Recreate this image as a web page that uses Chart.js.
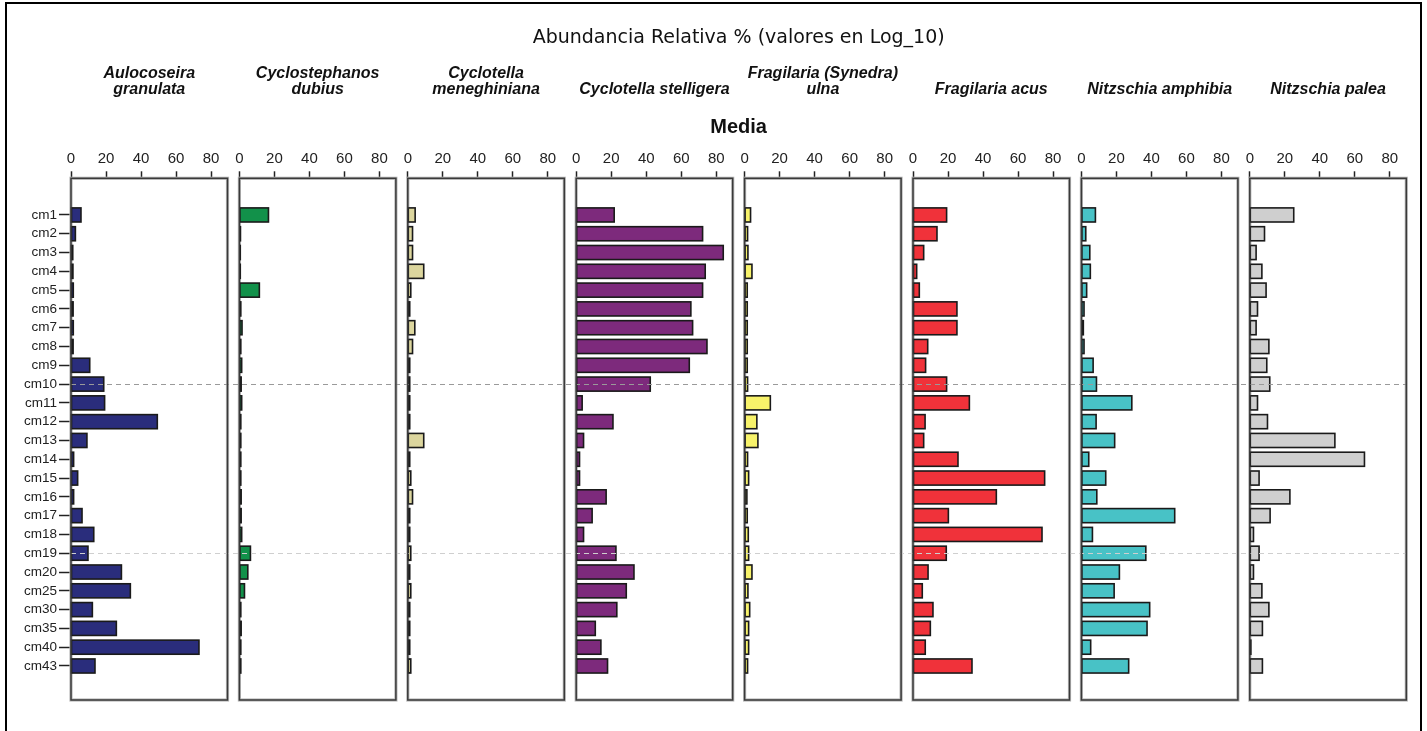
<!DOCTYPE html>
<html lang="es">
<head>
<meta charset="utf-8">
<title>Abundancia Relativa %</title>
<script src="https://cdn.jsdelivr.net/npm/chart.js@4.4.1/dist/chart.umd.min.js"></script>
<style>
  html, body { margin: 0; padding: 0; background: #ffffff; overflow: hidden; }
  #wrap { position: relative; width: 1427px; height: 731px; }
</style>
</head>
<body>
<div id="wrap"><canvas id="chart"></canvas></div>
<script>
// Sample depths (rows, top to bottom)
const categories = ['cm1', 'cm2', 'cm3', 'cm4', 'cm5', 'cm6', 'cm7', 'cm8', 'cm9', 'cm10',
  'cm11', 'cm12', 'cm13', 'cm14', 'cm15', 'cm16', 'cm17', 'cm18', 'cm19', 'cm20',
  'cm25', 'cm30', 'cm35', 'cm40', 'cm43'];

// Tick labels on every panel axis
const xTickValues = [0, 20, 40, 60, 80];

// Panel headings (one entry per line)
const speciesNames = [
  ['Aulocoseira', 'granulata'],
  ['Cyclostephanos', 'dubius'],
  ['Cyclotella', 'meneghiniana'],
  ['Cyclotella stelligera'],
  ['Fragilaria (Synedra)', 'ulna'],
  ['Fragilaria acus'],
  ['Nitzschia amphibia'],
  ['Nitzschia palea']
];

// Mean relative abundance per species, one value per depth
const aulacoseiraGranulata = [5.7, 2.5, 1.0, 1.1, 1.3, 1.2, 1.3, 1.2, 10.7, 18.7, 19.2, 49.3, 9.1,
  1.5, 3.8, 1.5, 6.3, 13.0, 9.7, 28.8, 33.9, 12.2, 25.9, 73.1, 13.7];
const cyclostephanosDubius = [16.6, 0.6, 0.5, 0.5, 11.4, 0.8, 1.5, 0.8, 1.3, 1.0, 1.3, 0.8, 0.8,
  0.8, 0.8, 1.0, 1.0, 1.3, 6.3, 4.8, 2.9, 0.8, 1.0, 0.8, 0.8];
const cyclotellaMeneghiniana = [4.2, 2.7, 2.7, 9.1, 1.7, 1.1, 4.0, 2.7, 1.1, 1.1, 1.1, 1.1, 9.1,
  1.1, 1.7, 2.7, 1.1, 1.1, 1.7, 1.1, 1.7, 1.1, 1.1, 1.1, 1.7];
const cyclotellaStelligera = [21.7, 72.2, 84.0, 73.7, 72.2, 65.5, 66.5, 74.7, 64.6, 42.3, 3.4, 21.0, 4.2,
  1.9, 1.9, 17.1, 9.1, 4.2, 22.7, 33.0, 28.6, 23.2, 10.9, 14.1, 17.9];
const fragilariaUlna = [3.4, 1.7, 1.9, 4.2, 1.5, 1.5, 1.5, 1.5, 1.5, 1.7, 14.7, 7.0, 7.6,
  1.7, 2.3, 1.3, 1.5, 2.1, 2.3, 4.2, 1.9, 2.9, 2.3, 2.3, 1.7];
const fragilariaAcus = [19.2, 13.7, 6.1, 2.1, 3.6, 25.1, 25.1, 8.4, 7.2, 19.2, 32.2, 6.9, 6.1,
  25.7, 75.2, 47.6, 20.2, 73.7, 19.0, 8.6, 5.3, 11.4, 9.9, 7.0, 33.7];
const nitzschiaAmphibia = [8.0, 2.5, 4.8, 5.1, 3.0, 1.5, 1.1, 1.5, 6.7, 8.6, 28.8, 8.4, 19.0,
  4.2, 13.9, 8.8, 53.3, 6.3, 36.8, 21.7, 18.7, 39.0, 37.5, 5.3, 27.0];
const nitzschiaPalea = [25.1, 8.4, 3.6, 6.9, 9.3, 4.4, 3.6, 10.9, 9.7, 11.4, 4.4, 10.1, 48.6,
  65.5, 5.3, 22.9, 11.6, 2.1, 5.3, 2.1, 6.9, 10.9, 7.2, 0.6, 7.2];

// Depths marked with a dashed guide across all panels
const markedRows = ['cm10', 'cm19'];

const series = [aulacoseiraGranulata, cyclostephanosDubius, cyclotellaMeneghiniana, cyclotellaStelligera,
  fragilariaUlna, fragilariaAcus, nitzschiaAmphibia, nitzschiaPalea];
const barColours = ['#2a2d7c', '#12914a', '#dcd69e', '#7d2a7c', '#f7f26a', '#f0323a', '#48c2c6', '#cfcfcf'];
const guideColours = ['#9a9a9a', '#cfcfcf'];

// Each panel axis spans one slot; the framed plot ends a little before the slot end
const AXIS_MAX = 96.2;
const FRAME_MAX = 89.4;

const SANS = "'Liberation Sans', Arial, Helvetica, sans-serif";
const NARROW = "'Liberation Sans Narrow', 'Liberation Sans', Arial, sans-serif";
const WIDE = "'DejaVu Sans', Verdana, sans-serif";

const datasets = series.map((values, k) => ({
  label: speciesNames[k].join(' '),
  data: values.map((v, i) => ({ x: v, y: i })),
  xAxisID: 'x' + k,
  yAxisID: 'y',
  backgroundColor: barColours[k],
  borderWidth: 0,
  inflateAmount: 0,
  grouped: false,
  categoryPercentage: 1,
  barPercentage: 0.75
}));

const scales = {
  y: {
    type: 'linear',
    position: 'left',
    reverse: true,
    offset: false,
    min: -1.95,
    max: 25.81,
    bounds: 'data',
    afterBuildTicks: s => { s.ticks = categories.map((_, i) => ({ value: i })); },
    afterFit: s => { s.width = 50; },
    ticks: {
      callback: v => categories[v],
      font: { family: SANS, size: 13.5 },
      color: '#222',
      padding: 2,
      autoSkip: false
    },
    grid: { display: true, offset: false, drawOnChartArea: false, drawTicks: true, tickLength: 12, tickColor: '#222', tickWidth: 1.5 },
    border: { display: false }
  }
};

// Panel axes sit side by side along the top; higher weight is placed further left
series.forEach((_, k) => {
  scales['x' + k] = {
    type: 'linear',
    position: 'top',
    stack: 'panels',
    stackWeight: 1,
    weight: series.length - k,
    offset: false,
    min: 0,
    max: AXIS_MAX,
    bounds: 'data',
    afterBuildTicks: s => { s.ticks = xTickValues.map(v => ({ value: v })); },
    afterFit: s => { s.height = 28; },
    ticks: {
      font: { family: NARROW, size: 15 },
      color: '#222',
      padding: 3,
      maxRotation: 0,
      minRotation: 0,
      autoSkip: false
    },
    grid: { display: true, offset: false, drawOnChartArea: false, drawTicks: true, tickLength: 7, tickColor: '#222', tickWidth: 1.5 },
    border: { display: false }
  };
});

function panelFrames(chart) {
  const { chartArea: area, scales: sc } = chart;
  return series.map((_, k) => {
    const s = sc['x' + k];
    const x0 = s.getPixelForValue(0);
    const x1 = s.getPixelForValue(FRAME_MAX);
    return { x: x0, y: area.top, w: x1 - x0, h: area.bottom - area.top };
  });
}

// Frame halo underneath; bar outlines (stroked on the edge so even tiny bars read
// as dark marks), guide lines and frame lines on top; headings and outer border last
const panelDecor = {
  id: 'panelDecor',
  beforeDatasetsDraw(chart) {
    const { ctx } = chart;
    ctx.save();
    ctx.strokeStyle = '#b8b8b8';
    ctx.lineWidth = 3.2;
    panelFrames(chart).forEach(f => ctx.strokeRect(f.x, f.y, f.w, f.h));
    ctx.restore();
  },
  afterDatasetsDraw(chart) {
    const { ctx, scales: sc } = chart;
    const frames = panelFrames(chart);
    const left = Math.min(...frames.map(f => f.x));
    const right = Math.max(...frames.map(f => f.x + f.w));

    ctx.save();
    ctx.strokeStyle = '#1a1a1a';
    ctx.lineWidth = 1.6;
    chart.data.datasets.forEach((_, d) => {
      chart.getDatasetMeta(d).data.forEach(bar => {
        const { x, y, base, height } = bar.getProps(['x', 'y', 'base', 'height'], true);
        const x0 = Math.min(x, base);
        const w = Math.abs(x - base);
        ctx.strokeRect(x0, y - height / 2, w, height);
      });
    });

    ctx.lineWidth = 1.2;
    ctx.setLineDash([5, 4]);
    markedRows.forEach((row, r) => {
      const yy = Math.round(sc.y.getPixelForValue(categories.indexOf(row))) + 0.5;
      ctx.strokeStyle = guideColours[r];
      ctx.beginPath();
      ctx.moveTo(left, yy);
      ctx.lineTo(right, yy);
      ctx.stroke();
    });
    ctx.setLineDash([]);

    ctx.strokeStyle = '#3a3a3a';
    ctx.lineWidth = 1.5;
    frames.forEach(f => ctx.strokeRect(f.x, f.y, f.w, f.h));
    ctx.restore();
  },
  afterDraw(chart) {
    const { ctx } = chart;
    const frames = panelFrames(chart);
    const left = Math.min(...frames.map(f => f.x));
    const right = Math.max(...frames.map(f => f.x + f.w));
    const midX = (left + right) / 2;

    ctx.save();
    ctx.fillStyle = '#111';
    ctx.textAlign = 'center';
    ctx.textBaseline = 'middle';

    ctx.font = '19px ' + WIDE;
    ctx.fillText('Abundancia Relativa % (valores en Log_10)', midX, 38.5);

    ctx.font = 'italic bold 16px ' + SANS;
    speciesNames.forEach((lines, k) => {
      const cx = frames[k].x + frames[k].w / 2;
      const startY = lines.length === 2 ? 74 : 90;
      lines.forEach((t, j) => ctx.fillText(t, cx, startY + j * 16));
    });

    ctx.font = 'bold 20px ' + SANS;
    ctx.fillText('Media', midX, 127);

    ctx.strokeStyle = '#000';
    ctx.lineWidth = 2;
    ctx.strokeRect(6, 3, 1415, 760);
    ctx.restore();
  }
};

new Chart(document.getElementById('chart'), {
  type: 'bar',
  data: { datasets },
  options: {
    indexAxis: 'y',
    responsive: true,
    maintainAspectRatio: false,
    animation: false,
    layout: { padding: { top: 150.3, left: 21, right: 8.8, bottom: 31 } },
    scales,
    plugins: {
      legend: { display: false },
      tooltip: { enabled: false },
      title: { display: false }
    }
  },
  plugins: [panelDecor]
});
</script>
</body>
</html>
